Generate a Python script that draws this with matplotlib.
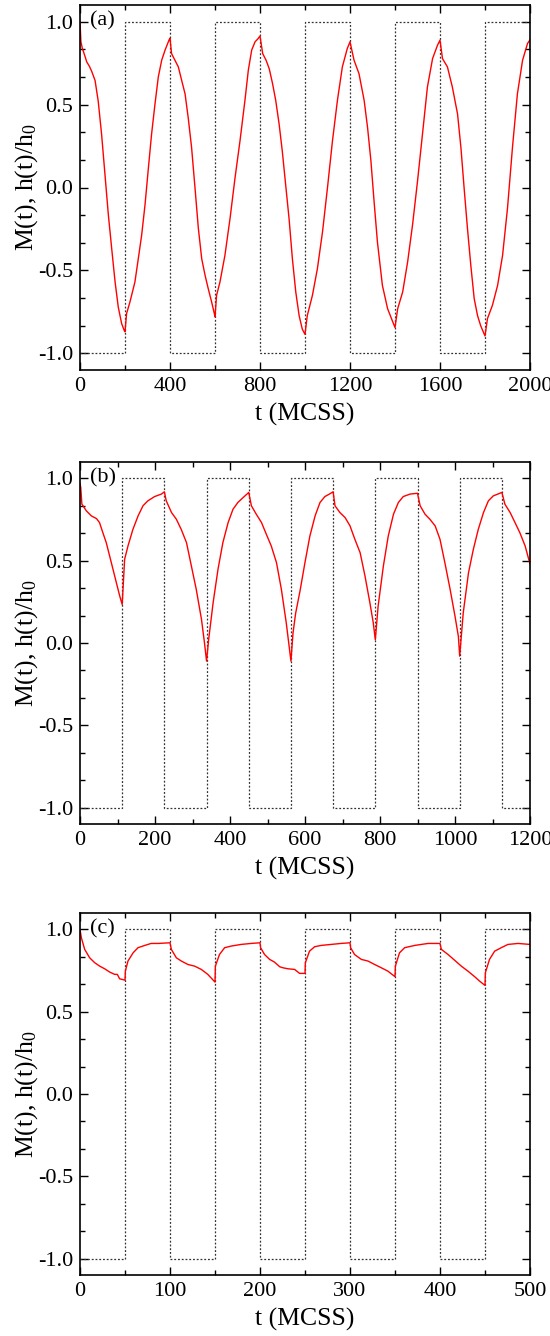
import matplotlib
matplotlib.use("Agg")
import matplotlib.pyplot as plt
from matplotlib.ticker import MultipleLocator, AutoMinorLocator

plt.rcParams['font.family'] = ['Liberation Serif', 'DejaVu Serif']
plt.rcParams['mathtext.fontset'] = 'custom'
plt.rcParams['mathtext.rm'] = 'Liberation Serif'
plt.rcParams['mathtext.it'] = 'Liberation Serif:italic'
plt.rcParams['axes.unicode_minus'] = False

# ---------------- data ----------------
# panel (a): half period 200 MCSS
ta = [0, 4, 10, 20, 30, 42, 52, 67, 81, 96, 111, 126, 141, 156, 170, 185, 196, 200,
      207, 222, 244, 259, 274, 289, 304, 318, 333, 348, 363, 378, 396, 400,
      407, 422, 437, 452, 467, 481, 496, 511, 526, 541, 556, 570, 585, 597, 600,
      607, 622, 644, 667, 689, 711, 733, 748, 763, 778, 790, 800,
      812, 827, 841, 856, 870, 885, 899, 914, 929, 944, 959, 974, 988, 1000,
      1010, 1033, 1055, 1078, 1100, 1122, 1144, 1166, 1188, 1200,
      1218, 1240, 1263, 1278, 1293, 1307, 1322, 1344, 1367, 1390, 1400,
      1412, 1434, 1456, 1478, 1500, 1522, 1544, 1567, 1589, 1600,
      1611, 1633, 1655, 1678, 1693, 1707, 1722, 1737, 1752, 1767, 1781, 1800,
      1811, 1833, 1856, 1878, 1900, 1922, 1944, 1967, 1989, 2000]
ma = [1.0, 0.88, 0.84, 0.80, 0.757, 0.73, 0.70, 0.645, 0.52, 0.32, 0.078, -0.165, -0.37, -0.57, -0.72, -0.82, -0.86, -0.87,
      -0.76, -0.69, -0.57, -0.43, -0.287, -0.104, 0.118, 0.32, 0.50, 0.666, 0.767, 0.828, 0.89, 0.90,
      0.807, 0.767, 0.727, 0.645, 0.564, 0.42, 0.24, 0.0, -0.246, -0.43, -0.53, -0.61, -0.69, -0.76, -0.78,
      -0.65, -0.57, -0.41, -0.185, 0.058, 0.28, 0.524, 0.706, 0.828, 0.878, 0.895, 0.913,
      0.807, 0.767, 0.716, 0.625, 0.524, 0.382, 0.22, 0.017, -0.185, -0.43, -0.63, -0.773, -0.854, -0.885,
      -0.773, -0.65, -0.49, -0.266, 0.0, 0.28, 0.524, 0.727, 0.838, 0.878,
      0.767, 0.686, 0.524, 0.362, 0.16, -0.084, -0.33, -0.59, -0.73, -0.81, -0.844,
      -0.73, -0.63, -0.45, -0.225, 0.037, 0.32, 0.605, 0.777, 0.858, 0.888,
      0.777, 0.727, 0.605, 0.443, 0.24, 0.0, -0.246, -0.47, -0.67, -0.773, -0.834, -0.895,
      -0.79, -0.71, -0.59, -0.41, -0.125, 0.24, 0.564, 0.767, 0.868, 0.89]
ha_t = [0, 200, 400, 600, 800, 1000, 1200, 1400, 1600, 1800, 2000]
ha_v = [-1, 1, -1, 1, -1, 1, -1, 1, -1, 1, 1]

# panel (b): half period 112.5 MCSS
tb = [0, 2, 5, 17, 30, 44, 52, 61, 70, 79, 88, 97, 106, 112.5,
      119, 128, 141, 155, 168, 181, 199, 217, 225,
      230, 244, 257, 270, 284, 297, 310, 324, 332, 337.5,
      343, 355, 368, 381, 395, 408, 421, 435, 450,
      457, 470, 484, 497, 510, 524, 537, 550, 562.5,
      568, 575, 587, 600, 613, 627, 640, 653, 665, 675,
      680, 693, 707, 720, 733, 747, 760, 773, 782, 787.5,
      795, 809, 822, 836, 849, 862, 880, 900,
      907, 920, 933, 947, 960, 973, 987, 1000, 1009, 1012.5,
      1022, 1036, 1049, 1062, 1076, 1089, 1102, 1125,
      1133, 1147, 1160, 1173, 1187, 1200]
mb = [0.97, 0.945, 0.844, 0.803, 0.773, 0.756, 0.732, 0.67, 0.61, 0.529, 0.448, 0.366, 0.285, 0.234,
      0.509, 0.59, 0.69, 0.773, 0.834, 0.864, 0.89, 0.905, 0.919,
      0.864, 0.793, 0.752, 0.69, 0.61, 0.468, 0.326, 0.143, 0.0, -0.11,
      0.02, 0.245, 0.448, 0.61, 0.732, 0.813, 0.854, 0.884, 0.915,
      0.834, 0.783, 0.732, 0.66, 0.59, 0.488, 0.326, 0.123, -0.11,
      0.06, 0.18, 0.32, 0.49, 0.65, 0.773, 0.854, 0.89, 0.905, 0.919,
      0.834, 0.793, 0.762, 0.712, 0.63, 0.549, 0.407, 0.245, 0.123, 0.02,
      0.224, 0.468, 0.65, 0.783, 0.854, 0.89, 0.905, 0.91,
      0.834, 0.783, 0.752, 0.712, 0.63, 0.488, 0.326, 0.163, 0.04, -0.08,
      0.184, 0.427, 0.57, 0.69, 0.793, 0.864, 0.894, 0.915,
      0.844, 0.793, 0.732, 0.67, 0.59, 0.48]
hb_t = [0, 112.5, 225, 337.5, 450, 562.5, 675, 787.5, 900, 1012.5, 1125, 1200]
hb_v = [-1, 1, -1, 1, -1, 1, -1, 1, -1, 1, -1, -1]

# panel (c): half period 50 MCSS
tc = [0, 1.5, 5.2, 10.7, 16.3, 21.9, 27.4, 33, 38.5, 41.5, 44, 50,
      50.4, 53.3, 59, 64.4, 72, 79, 86.7, 100,
      101.5, 107, 112.6, 120, 127.4, 134.8, 142, 150,
      150.4, 155, 160.7, 168, 179, 190, 200,
      200.7, 205, 210.7, 216, 222, 225.6, 231, 238.5, 244, 250,
      250.4, 255, 260.7, 268, 279, 290, 300,
      300.7, 305, 312.6, 320, 327.4, 334.8, 342, 350,
      350.4, 355, 360.7, 372, 386.7, 400,
      401.5, 408.9, 416, 423.7, 431, 438.5, 444, 450,
      450.4, 455, 460.7, 468, 475.5, 486.7, 500]
mc = [1.0, 0.95, 0.879, 0.828, 0.798, 0.777, 0.761, 0.741, 0.727, 0.727, 0.70, 0.692,
      0.747, 0.808, 0.858, 0.889, 0.903, 0.915, 0.915, 0.919,
      0.879, 0.828, 0.808, 0.787, 0.777, 0.757, 0.727, 0.68,
      0.777, 0.848, 0.889, 0.899, 0.909, 0.915, 0.919,
      0.889, 0.848, 0.818, 0.802, 0.773, 0.767, 0.761, 0.757, 0.733, 0.733,
      0.798, 0.868, 0.895, 0.903, 0.909, 0.915, 0.919,
      0.889, 0.848, 0.818, 0.808, 0.787, 0.767, 0.747, 0.713,
      0.777, 0.858, 0.889, 0.903, 0.915, 0.915,
      0.879, 0.848, 0.814, 0.777, 0.747, 0.713, 0.686, 0.66,
      0.737, 0.818, 0.868, 0.889, 0.909, 0.915, 0.909]
hc_t = [0, 50, 100, 150, 200, 250, 300, 350, 400, 450, 500]
hc_v = [-1, 1, -1, 1, -1, 1, -1, 1, -1, 1, 1]

panels = [
    dict(t=ta, m=ma, ht=ha_t, hv=ha_v, xmax=2000, xmaj=400, label='(a)',
         pos=[80/550, 1-370/1336, 450/550, 365/1336]),
    dict(t=tb, m=mb, ht=hb_t, hv=hb_v, xmax=1200, xmaj=200, label='(b)',
         pos=[80/550, 1-824/1336, 450/550, 362/1336]),
    dict(t=tc, m=mc, ht=hc_t, hv=hc_v, xmax=500, xmaj=100, label='(c)',
         pos=[80/550, 1-1275/1336, 450/550, 362/1336]),
]

fig = plt.figure(figsize=(5.5, 13.36), dpi=100)
for p in panels:
    ax = fig.add_axes(p['pos'])
    ax.plot(p['ht'], p['hv'], drawstyle='steps-post', color='#333333',
            lw=0.9, linestyle=(0, (1.5, 1.5)))
    ax.plot(p['t'], p['m'], color='#ff0000', lw=1.0)
    ax.set_xlim(0, p['xmax'])
    ax.set_ylim(-1.1, 1.1)
    ax.xaxis.set_major_locator(MultipleLocator(p['xmaj']))
    ax.xaxis.set_minor_locator(AutoMinorLocator(2))
    ax.yaxis.set_major_locator(MultipleLocator(0.5))
    ax.yaxis.set_minor_locator(AutoMinorLocator(3))
    ax.yaxis.set_major_formatter(matplotlib.ticker.FormatStrFormatter('%.1f'))
    ax.tick_params(which='both', direction='in', top=True, right=True,
                   labelsize=16, width=1.0)
    ax.tick_params(which='major', length=6, pad=5)
    ax.tick_params(which='minor', length=3.5)
    for s in ax.spines.values():
        s.set_linewidth(1.2)
    ax.set_xlabel('t (MCSS)', fontsize=18.5, labelpad=5)
    ax.set_ylabel(r'M(t), h(t)/h$_0$', fontsize=18.5)
    ax.yaxis.set_label_coords(-0.09, 0.5)
    ax.text(0.022, 0.956, p['label'], transform=ax.transAxes, fontsize=16,
            ha='left', va='center')

fig.savefig('out.png', dpi=100)
